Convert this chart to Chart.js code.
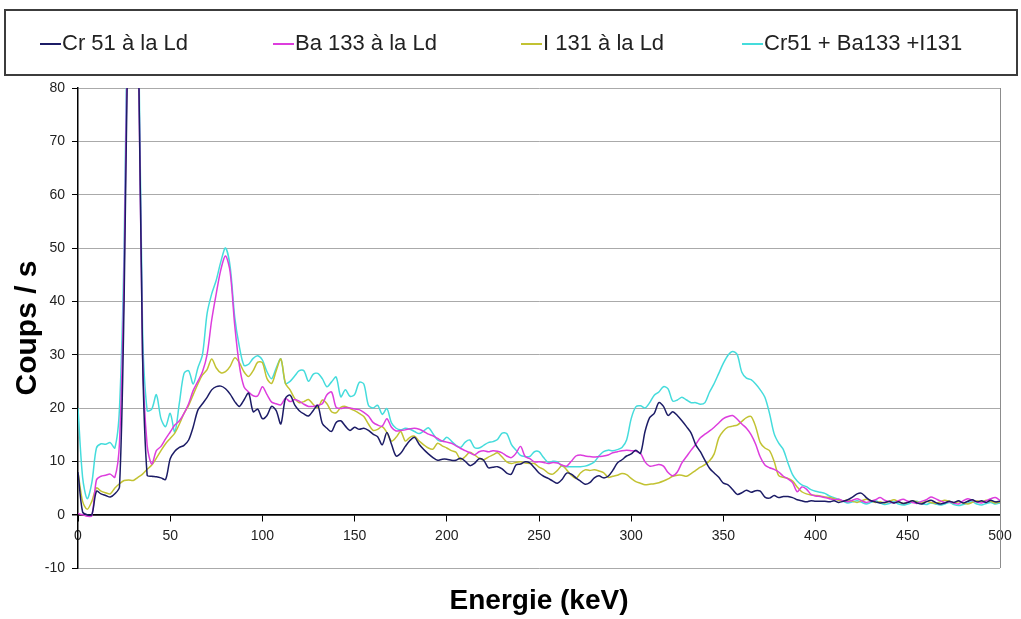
<!DOCTYPE html>
<html>
<head>
<meta charset="utf-8">
<script src="https://cdn.jsdelivr.net/npm/chart.js@4"></script>
<style>
  html, body { margin: 0; padding: 0; background: #fff; }
</style>
</head>
<body>
<canvas id="spectre" width="1021" height="619"></canvas>
<script>
// Energie (keV), un point tous les 2,5 keV
const energie = [
  0, 2.5, 5, 7.5, 10, 12.5, 15, 17.5, 20, 22.5,
  25, 27.5, 30, 32.5, 35, 37.5, 40, 42.5, 45, 47.5,
  50, 52.5, 55, 57.5, 60, 62.5, 65, 67.5, 70, 72.5,
  75, 77.5, 80, 82.5, 85, 87.5, 90, 92.5, 95, 97.5,
  100, 102.5, 105, 107.5, 110, 112.5, 115, 117.5, 120, 122.5,
  125, 127.5, 130, 132.5, 135, 137.5, 140, 142.5, 145, 147.5,
  150, 152.5, 155, 157.5, 160, 162.5, 165, 167.5, 170, 172.5,
  175, 177.5, 180, 182.5, 185, 187.5, 190, 192.5, 195, 197.5,
  200, 202.5, 205, 207.5, 210, 212.5, 215, 217.5, 220, 222.5,
  225, 227.5, 230, 232.5, 235, 237.5, 240, 242.5, 245, 247.5,
  250, 252.5, 255, 257.5, 260, 262.5, 265, 267.5, 270, 272.5,
  275, 277.5, 280, 282.5, 285, 287.5, 290, 292.5, 295, 297.5,
  300, 302.5, 305, 307.5, 310, 312.5, 315, 317.5, 320, 322.5,
  325, 327.5, 330, 332.5, 335, 337.5, 340, 342.5, 345, 347.5,
  350, 352.5, 355, 357.5, 360, 362.5, 365, 367.5, 370, 372.5,
  375, 377.5, 380, 382.5, 385, 387.5, 390, 392.5, 395, 397.5,
  400, 402.5, 405, 407.5, 410, 412.5, 415, 417.5, 420, 422.5,
  425, 427.5, 430, 432.5, 435, 437.5, 440, 442.5, 445, 447.5,
  450, 452.5, 455, 457.5, 460, 462.5, 465, 467.5, 470, 472.5,
  475, 477.5, 480, 482.5, 485, 487.5, 490, 492.5, 495, 497.5,
  500
];

// Coups / s
const cr51 = [
  8, 0.5, 0, 0, 4.4, 3.9, 3.6, 3.3, 3.9, 5.2,
  40, 100, 125, 95, 30, 7.4, 7.2, 7.1, 6.9, 6.6,
  10.5, 11.9, 12.6, 13, 14, 16.5, 19.6, 20.8, 22, 23.4,
  24, 24.1, 23.6, 22.6, 21.2, 20.3, 21.5, 22.8, 19.3, 19.8,
  18, 18.6, 20.3, 19.5, 17, 21.8, 22.4, 20.6, 19.5, 18.9,
  18.5, 19.5, 20.5, 17.1, 16.2, 15.6, 17.3, 17.6, 16.6, 15.8,
  16.4, 16, 16.2, 15.8, 15.1, 14.6, 13.1, 15.4, 13.2, 11,
  11.5, 12.8, 13.9, 14.5, 13.2, 12.2, 11.4, 10.7, 10.2, 10.4,
  10.4, 10.2, 10.2, 10.6, 10, 9.2, 9.6, 10.5, 10.2, 8.8,
  8.9, 9, 8.6, 7.8, 7.6, 9.3, 9.5, 9.9, 9.7, 8.8,
  7.8, 7.2, 6.8, 6.3, 5.9, 6.6, 7.8, 7.6, 6.9, 6.3,
  5.7, 6, 6.9, 7.3, 6.9, 7.2, 8.3, 9.7, 10.3, 11,
  11.4, 12.1, 11.5, 15.6, 18.2, 19, 21, 20.3, 18.6, 19.3,
  18.6, 17.6, 16.5, 15.3, 13.1, 11.8, 10.2, 8.7, 7.8, 7,
  5.9, 5.6, 4.7, 3.8, 4.1, 4.6, 4.2, 4.5, 4.4, 3.3,
  3.1, 3.6, 3.2, 3.4, 3.4, 3.2, 2.8, 2.6, 2.4, 2.6,
  2.5, 2.5, 2.5, 2.4, 2.6, 2.3, 2.5, 2.8, 3.3, 3.9,
  4.0, 3.2, 2.6, 2.4, 2.2, 2.3, 2.5, 2.2, 2.4, 2.1,
  2.3, 2.6, 2.2, 2.0, 2.4, 2.7, 2.3, 2.0, 2.2, 2.5,
  2.3, 2.6, 2.2, 2.5, 2.8, 2.4, 2.6, 2.3, 2.7, 2.4,
  2.5
];

const ba133 = [
  0.2, 0, -0.3, -0.2, 6.5, 7.2, 7.4, 7.6, 7, 13.5,
  45, 105, 125, 95, 30, 13, 9.5, 12, 12.8, 14.2,
  15.5, 16.8, 17.6, 19, 20.8, 23.3, 25, 26.8, 30, 36.5,
  41.5, 46, 48.5, 45.5, 35.5, 28, 24, 23, 22.3, 22.3,
  24, 22.5, 21.1, 20.8, 20.6, 21.8, 21.2, 21.6, 21.3, 20.7,
  20.3, 20.3, 20.5, 20.8, 22.5, 23, 20.1, 19.9, 20.1, 20,
  19.8, 19.7, 19.2, 18.5, 17.3, 16.8, 16.6, 18, 16.4, 15.7,
  15.8, 15.9, 16.1, 16.2, 16, 15.6, 15.1, 14.8, 14.3, 13.8,
  13.6, 13.4, 12.9, 12.4, 12, 11.6, 11.2, 11.8, 12, 11.8,
  12, 11.9, 11.6, 11, 10.7, 11.5, 12.8, 10.9, 10.5, 9.9,
  9.9, 9.8, 9.6, 9.8, 9.7, 9.3, 9.1, 10, 11, 11.2,
  11, 10.9, 10.8, 10.9, 11, 11.2, 11.6, 11.8, 12, 12.1,
  12, 11.9, 11.5, 9.9, 9.1, 9.2, 9.4, 9.1, 7.9, 7.3,
  8, 9.7, 10.9, 12.1, 13.2, 14.4, 15.1, 15.7, 16.4, 17.2,
  18, 18.4, 18.6, 17.9, 17, 16.2, 15, 13.2, 10.8, 9.3,
  8.8, 8.5, 8, 7.2, 6.7, 6, 4.3, 5.2, 4.8, 3.8,
  3.5, 3.4, 3.2, 3.0, 2.8, 2.9, 2.6, 2.4, 2.7, 3.0,
  2.6, 2.3, 2.5, 2.8, 3.2, 2.7, 2.4, 2.2, 2.6, 2.9,
  2.5, 2.3, 2.1, 2.5, 2.8, 3.3, 3.0, 2.6, 2.3, 2.4,
  2.2, 2.0, 2.6, 3.0, 2.7, 2.4, 2.2, 2.6, 3.0, 3.2,
  2.7
];

const i131 = [
  8, 2.5, 1, 2.5, 5, 4.4, 4.1, 3.9, 5, 5.8,
  6.4, 6.5, 6.4, 7, 7.6, 8.5, 9.3, 10.6, 12, 13.3,
  14.3, 15.3, 17, 19, 20.5, 22.5, 24.5, 26.2, 27.2, 29.2,
  27.5, 26.6, 26.8, 27.8, 29.4, 28.5, 26.8, 25.9, 27, 28.6,
  28.5, 25.5, 24.6, 27, 29.2, 24.6, 23.4, 21.8, 21, 21.2,
  21.6, 20.7, 20, 21.5, 20.8, 19.3, 19.1, 20.1, 20.3, 19.9,
  19.5, 19, 18.4, 17, 15.8, 16, 16.5, 15.4, 13.8, 14.5,
  15.6, 13.8, 14.5, 14.7, 13.8, 13.1, 12.5, 12.3, 13.4, 12.9,
  12.5, 12, 11.7, 10.3, 10.9, 11.7, 11.2, 10.6, 10.3, 10.8,
  11.2, 11.6, 10.8, 9.9, 9.6, 9.8, 9.9, 9.7, 9.6, 9.6,
  8.9, 8.5, 7.8, 7.6, 8.3, 9.2, 8.4, 7.4, 6.8, 7.8,
  8.4, 8.3, 8.4, 8.2, 7.9, 7, 7.2, 7.4, 7.7, 7.5,
  6.8, 6.2, 5.9, 5.6, 5.7, 5.8, 6, 6.3, 6.7, 7.2,
  7.4, 7.4, 7.2, 7.7, 8.3, 8.9, 9.4, 10.1, 11.4, 14.4,
  15.7, 16.4, 16.6, 16.8, 17.5, 18.2, 18.4, 16.5, 13.5, 12.5,
  12, 10, 7.3, 7, 6.8, 6.3, 5.2, 4.3, 3.9, 3.7,
  3.6, 3.5, 3.3, 3.2, 3.0, 2.7, 2.5, 2.8, 2.5, 2.3,
  2.6, 2.9, 2.6, 2.3, 2.4, 2.2, 2.5, 2.8, 2.4, 2.1,
  2.3, 2.6, 2.4, 2.2, 2.5, 2.3, 2.1, 2.4, 2.7, 2.5,
  2.2, 2.4, 2.2, 2.0, 2.3, 2.6, 2.4, 2.7, 2.5, 2.2,
  2.4
];

const somme = [
  20, 7, 3, 6, 12.5, 13.3, 13.2, 13.5, 12.5, 20,
  50, 110, 130, 100, 35, 19.5, 19.8, 22.5, 18, 16.5,
  19, 15.5, 21, 26.5, 27, 24.5, 27.5, 30, 37.7, 41.4,
  44, 47.5, 50, 46.5, 37, 31.5, 28, 28.2, 29.3, 29.8,
  29, 26.8, 25.5, 27.5, 29.2, 24.6, 25, 26, 27, 27,
  25, 26.3, 26.5, 25.5, 24, 24.9, 25.8, 22.1, 23.4, 22.2,
  22.5, 24.8, 24.5, 20.5, 20, 20.5, 18.8, 19.9, 17.2, 16.2,
  15.9, 16.2, 16, 15.6, 15.2, 15.7, 16.3, 15.2, 14, 13.8,
  14.5, 13.8, 13, 12.6, 13.6, 14, 12.6, 12.5, 13, 13.5,
  13.7, 14.1, 15.3, 15.2, 13.2, 12.1, 11.1, 10.9, 10.9, 11.8,
  11.8, 10.7, 9.8, 10, 9.9, 9.1, 9, 9, 9, 9,
  9.1, 9.4, 9.9, 11, 11.8, 12.1, 12, 12.2, 12.6, 14,
  18, 20.2, 20.4, 20, 21, 22.4, 23, 24, 23.6, 21.3,
  21.5, 22, 21.5, 21, 21, 20.7, 21, 23, 24.6, 26.5,
  28.4, 29.9, 30.6, 30, 26.7, 25.6, 25.3, 24.5, 23.4, 22,
  19, 15.2, 13.4, 12.2, 9.7, 7.5, 6.3, 5.6, 5.25, 4.7,
  4.4, 4.2, 4, 3.5, 3.2, 2.9, 2.5, 2.2, 2.4, 2.6,
  2.3, 2.0, 2.3, 2.6, 2.2, 1.9, 2.1, 2.4, 2.0, 1.8,
  2.0, 2.3, 2.5, 2.1, 1.9, 2.2, 2.0, 1.8, 2.0, 2.3,
  1.9, 1.7, 1.9, 2.2, 2.4, 2.0, 1.8, 2.1, 2.3, 2.0,
  2.2
];

const nomsSeries = ['Cr 51 à la Ld', 'Ba 133 à la Ld', 'I 131 à la Ld', 'Cr51 + Ba133 +I131'];
const couleurs = ['#1c1c66', '#dd3ddd', '#c2c232', '#45dcdc'];
const xTicks = [0, 50, 100, 150, 200, 250, 300, 350, 400, 450, 500];
const yTicks = [-10, 0, 10, 20, 30, 40, 50, 60, 70, 80];

const FONT = '"Liberation Sans", Arial, sans-serif';
Chart.defaults.font.family = FONT;

// Légende encadrée en haut, comme dans Excel
const legendeCadre = {
    id: 'legendeCadre',
    afterDraw(chart) {
        let ctx = chart.ctx;
        let departs = [40, 273, 521, 742];
        ctx.save();
        ctx.strokeStyle = '#3c3c3c';
        ctx.lineWidth = 2;
        ctx.strokeRect(5, 10, 1012, 65);
        ctx.font = '22px ' + FONT;
        ctx.textBaseline = 'middle';
        chart.data.datasets.forEach((ds, i) => {
            let x = departs[i];
            ctx.strokeStyle = ds.borderColor;
            ctx.lineWidth = 2;
            ctx.beginPath();
            ctx.moveTo(x, 44);
            ctx.lineTo(x + 21, 44);
            ctx.stroke();
            ctx.fillStyle = '#222';
            ctx.fillText(ds.label, x + 22, 44);
        });
        ctx.restore();
    }
};

// Bord droit de la zone de tracé
const cadreTrace = {
    id: 'cadreTrace',
    beforeDatasetsDraw(chart) {
        let { ctx, chartArea: a } = chart;
        ctx.save();
        ctx.strokeStyle = '#8c8c8c';
        ctx.lineWidth = 1;
        ctx.beginPath();
        ctx.moveTo(a.right + 0.5, a.top);
        ctx.lineTo(a.right + 0.5, a.bottom);
        ctx.stroke();
        ctx.restore();
    }
};

const series = [cr51, ba133, i131, somme];

let ctx = document.getElementById('spectre').getContext('2d');
new Chart(ctx, {
    type: 'line',
    data: {
        datasets: series.map((valeurs, i) => ({
            label: nomsSeries[i],
            data: energie.map((e, k) => ({ x: e, y: valeurs[k] })),
            borderColor: couleurs[i],
            borderWidth: 1.5,
            pointRadius: 0,
            tension: 0.3,
            fill: false
        }))
    },
    options: {
        responsive: false,
        animation: false,
        devicePixelRatio: 1,
        layout: {
            padding: { top: 88, right: 21, bottom: 51, left: 0 }
        },
        plugins: {
            legend: { display: false },
            tooltip: { enabled: false }
        },
        scales: {
            x: {
                type: 'linear',
                position: { y: 0 },
                min: 0,
                max: 500,
                afterBuildTicks: s => { s.ticks = xTicks.map(v => ({ value: v })); },
                afterFit: s => { s.height = 103; },
                grid: {
                    display: true,
                    drawOnChartArea: false,
                    drawTicks: true,
                    tickLength: 6,
                    tickColor: '#000'
                },
                border: { display: true, color: '#000', width: 1.5 },
                ticks: {
                    color: '#222',
                    font: { size: 14 },
                    padding: 7,
                    maxRotation: 0
                },
                title: {
                    display: true,
                    text: 'Energie (keV)',
                    color: '#000',
                    font: { size: 28, weight: 'bold' },
                    padding: 0
                }
            },
            y: {
                min: -10,
                max: 80,
                afterBuildTicks: s => { s.ticks = yTicks.map(v => ({ value: v })); },
                afterFit: s => { s.width = 78; },
                grid: {
                    color: c => (c.tick && c.tick.value === 0) ? '#000' : '#aaaaaa',
                    lineWidth: c => (c.tick && c.tick.value === 0) ? 1.5 : 1,
                    tickLength: 6,
                    tickColor: '#000'
                },
                border: { display: true, color: '#000', width: 1.5 },
                ticks: {
                    color: '#222',
                    font: { size: 14 },
                    padding: 7
                },
                title: {
                    display: true,
                    text: 'Coups / s',
                    color: '#000',
                    font: { size: 30, weight: 'bold' },
                    padding: { top: 10, bottom: 0 }
                }
            }
        }
    },
    plugins: [cadreTrace, legendeCadre]
});
</script>
</body>
</html>
